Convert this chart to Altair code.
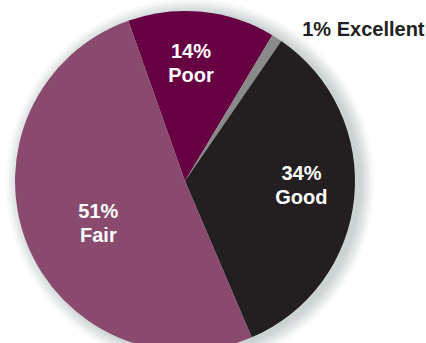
import math
import altair as alt
import pandas as pd

categories = ["Poor", "Excellent", "Good", "Fair"]
values = [14, 1, 34, 51]
colors = ["#660042", "#8a8a8a", "#231f20", "#8a4a6d"]
labels = ["14%\nPoor", "1% Excellent", "34%\nGood", "51%\nFair"]

df = pd.DataFrame({
    "category": categories,
    "value": values,
    "order": list(range(len(categories))),
    "label": labels,
})

start = 2 * math.pi - math.radians(19.5)
theta_scale = alt.Scale(domain=[0, 100], range=[start, start + 2 * math.pi])
color_scale = alt.Scale(domain=categories, range=colors)

CX, CY, R = 185, 181, 170

base = alt.Chart(df).encode(
    theta=alt.Theta("value:Q", stack=True, scale=theta_scale),
    order=alt.Order("order:Q"),
    x=alt.value(CX),
    y=alt.value(CY),
)

shadows = [
    base.mark_arc(radius=R + k, color="#6a6f75", opacity=0.05, stroke=None).encode(
        x=alt.value(CX + 5), y=alt.value(CY + 2)
    )
    for k in [1, 3, 5, 7, 9, 11, 14]
]

pie = base.mark_arc(radius=R, stroke=None).encode(
    color=alt.Color("category:N", scale=color_scale, legend=None)
)

text_base = alt.Chart(df).transform_window(
    cum="sum(value)", sort=[alt.SortField("order")]
).transform_calculate(
    mid="datum.cum - datum.value / 2"
).encode(
    theta=alt.Theta("mid:Q", stack=None, scale=theta_scale),
    x=alt.value(CX),
    y=alt.value(CY),
    text="label:N",
)

def inner_text(cat, r, dx=0, dy=0):
    return text_base.transform_filter(alt.datum.category == cat).mark_text(
        radius=r, color="white", font="Liberation Sans", fontWeight="bold",
        fontSize=20, lineBreak="\n", lineHeight=24, baseline="middle",
        align="center", dx=dx, dy=dy,
    )

layers = shadows + [pie]
layers.append(inner_text("Poor", 120, dx=-6, dy=-10))
layers.append(inner_text("Good", 117, dy=-19))
layers.append(inner_text("Fair", 93, dy=-3))

excellent = text_base.transform_filter(alt.datum.category == "Excellent").mark_text(
    radius=180, color="#231f20", font="Liberation Sans", fontWeight="bold",
    fontSize=20, baseline="middle", align="left", dx=20,
)
layers.append(excellent)

chart = alt.layer(*layers).properties(
    width=426, height=343, padding=0, autosize="none",
    background="white",
).configure_view(stroke=None)

chart.save("out.html", embed_options={"renderer": "svg", "actions": False})
